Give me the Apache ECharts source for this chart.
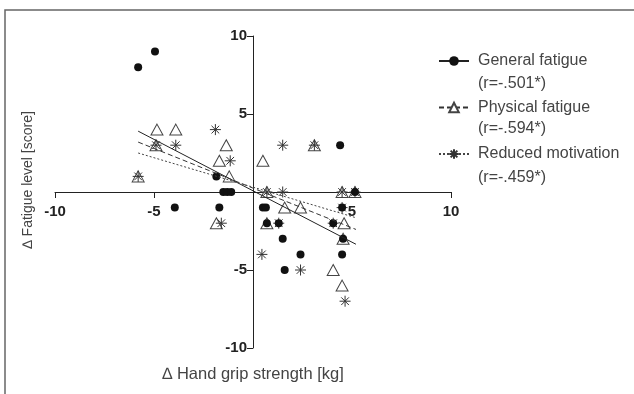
<!DOCTYPE html>
<html>
<head>
<meta charset="utf-8">
<script src="https://cdn.jsdelivr.net/npm/echarts@6/dist/echarts.min.js"></script>
<style>
  html, body { margin: 0; padding: 0; background: #fff; }
  #main { width: 634px; height: 394px; }
</style>
</head>
<body>
<div id="main"></div>
<script>
// hand grip change (x) vs fatigue change (y)
var generalX = [-5.8, -4.95, -3.95, -1.85, -1.5, -1.3, -1.1, -1.7, 0.5, 0.65, 0.7, 1.3, 1.5, 1.6, 2.4, 4.4, 4.5, 4.05, 4.55, 4.5, 5.15];
var generalY = [8, 9, -1, 1, 0, 0, 0, -1, -1, -1, -2, -2, -3, -5, -4, 3, -1, -2, -3, -4, 0];

var physicalX = [-4.85, -3.9, -1.35, -1.7, -1.2, -5.8, -4.9, -1.85, 0.5, 3.1, 0.7, 4.5, 5.15, 1.6, 2.4, 0.7, 4.6, 4.55, 4.05, 4.5];
var physicalY = [4, 4, 3, 2, 1, 1, 3, -2, 2, 3, 0, 0, 0, -1, -1, -2, -2, -3, -5, -6];

var reducedX = [-1.9, -4.9, -3.9, -1.15, -5.8, -1.6, 1.5, 3.1, 0.7, 1.5, 4.5, 5.15, 4.5, 4.05, 1.3, 0.45, 2.4, 4.65];
var reducedY = [4, 3, 3, 2, 1, -2, 3, 3, 0, 0, 0, 0, -1, -2, -2, -4, -5, -7];

// regression line end points
var trendX = [-5.8, 5.2];
var generalTrend = [3.9, -3.35];
var physicalTrend = [3.2, -2.4];
var reducedTrend = [2.5, -1.65];

var seriesNames = ['General fatigue', 'Physical fatigue', 'Reduced motivation'];
var rLabels = ['(r=-.501*)', '(r=-.594*)', '(r=-.459*)'];

var starPath = 'path://M5,0L5,10M0,5L10,5M1.5,1.5L8.5,8.5M1.5,8.5L8.5,1.5';
var txtFont = '16px Arial, "Liberation Sans"';

function pairs(xs, ys) {
    return xs.map(function (x, i) { return [x, ys[i]]; });
}

var option = {
    animation: false,
    graphic: [
        {
            type: 'rect',
            shape: { x: 5, y: 10, width: 700, height: 500 },
            style: { fill: 'none', stroke: '#666', lineWidth: 1.5 }
        },
        { type: 'text', left: 478, top: 76, style: { text: rLabels[0], font: txtFont, fill: '#444' } },
        { type: 'text', left: 478, top: 121, style: { text: rLabels[1], font: txtFont, fill: '#444' } },
        { type: 'text', left: 478, top: 170, style: { text: rLabels[2], font: txtFont, fill: '#444' } }
    ],
    grid: { left: 55, right: 183, top: 36, bottom: 46, containLabel: false, outerBoundsMode: 'none' },
    legend: {
        data: seriesNames,
        orient: 'vertical',
        left: 433,
        top: 48,
        itemWidth: 30,
        itemHeight: 12,
        itemGap: 30.5,
        textStyle: {
            fontFamily: 'Arial, "Liberation Sans"',
            fontSize: 16,
            color: '#444',
            padding: [0, 0, 0, 4]
        }
    },
    xAxis: {
        type: 'value',
        min: -10,
        max: 10,
        interval: 5,
        offset: -156,
        splitLine: { show: false },
        axisLine: { onZero: false, lineStyle: { color: '#222', width: 1 } },
        axisTick: { lineStyle: { color: '#222' }, length: 6 },
        axisLabel: {
            color: '#222',
            fontWeight: 'bold',
            fontSize: 15,
            fontFamily: 'Arial, "Liberation Sans"',
            margin: 12,
            formatter: function (v) { return v === 0 ? '' : v; }
        },
        name: '\u2206 Hand grip strength [kg]',
        nameLocation: 'middle',
        nameGap: 174,
        nameTextStyle: { color: '#444', fontSize: 16.5, fontFamily: 'Arial, "Liberation Sans"' }
    },
    yAxis: {
        type: 'value',
        min: -10,
        max: 10,
        interval: 5,
        offset: -198,
        splitLine: { show: false },
        axisLine: { onZero: false, lineStyle: { color: '#222', width: 1 } },
        axisTick: { lineStyle: { color: '#222' }, length: 6 },
        axisLabel: {
            color: '#222',
            fontWeight: 'bold',
            fontSize: 15,
            fontFamily: 'Arial, "Liberation Sans"',
            margin: 6,
            formatter: function (v) { return v === 0 ? '' : v; }
        },
        name: '\u2206 Fatigue level [score]',
        nameLocation: 'middle',
        nameGap: 218,
        nameTextStyle: {
            color: '#444',
            fontSize: 14,
            fontFamily: 'Arial, "Liberation Sans"',
            padding: [0, 0, 0, 24]
        }
    },
    series: [
        {
            name: 'Physical points',
            type: 'scatter',
            symbol: 'triangle',
            symbolSize: [12, 11],
            itemStyle: { color: '#fff', borderColor: '#444', borderWidth: 1, opacity: 1 },
            data: pairs(physicalX, physicalY),
            z: 2
        },
        {
            name: 'Reduced points',
            type: 'scatter',
            symbol: starPath,
            symbolSize: 11,
            itemStyle: { color: '#333', borderColor: '#333', borderWidth: 1, opacity: 1 },
            data: pairs(reducedX, reducedY),
            z: 3
        },
        {
            name: 'General points',
            type: 'scatter',
            symbol: 'circle',
            symbolSize: 8,
            itemStyle: { color: '#111', opacity: 1 },
            data: pairs(generalX, generalY),
            z: 4
        },
        {
            name: seriesNames[0],
            type: 'line',
            symbol: 'circle',
            symbolSize: 7,
            showSymbol: false,
            itemStyle: { color: '#111' },
            lineStyle: { color: '#222', width: 1, type: 'solid' },
            data: pairs(trendX, generalTrend),
            z: 5
        },
        {
            name: seriesNames[1],
            type: 'line',
            symbol: 'triangle',
            symbolSize: 10,
            showSymbol: false,
            itemStyle: { color: '#fff', borderColor: '#444', borderWidth: 1 },
            lineStyle: { color: '#333', width: 1, type: [5, 3] },
            data: pairs(trendX, physicalTrend),
            z: 5
        },
        {
            name: seriesNames[2],
            type: 'line',
            symbol: starPath,
            symbolSize: 10,
            showSymbol: false,
            itemStyle: { color: '#333', borderColor: '#333', borderWidth: 1 },
            lineStyle: { color: '#444', width: 1, type: [2, 2] },
            data: pairs(trendX, reducedTrend),
            z: 5
        }
    ]
};

var myChart = echarts.init(document.getElementById('main'));
myChart.setOption(option);
</script>
</body>
</html>
